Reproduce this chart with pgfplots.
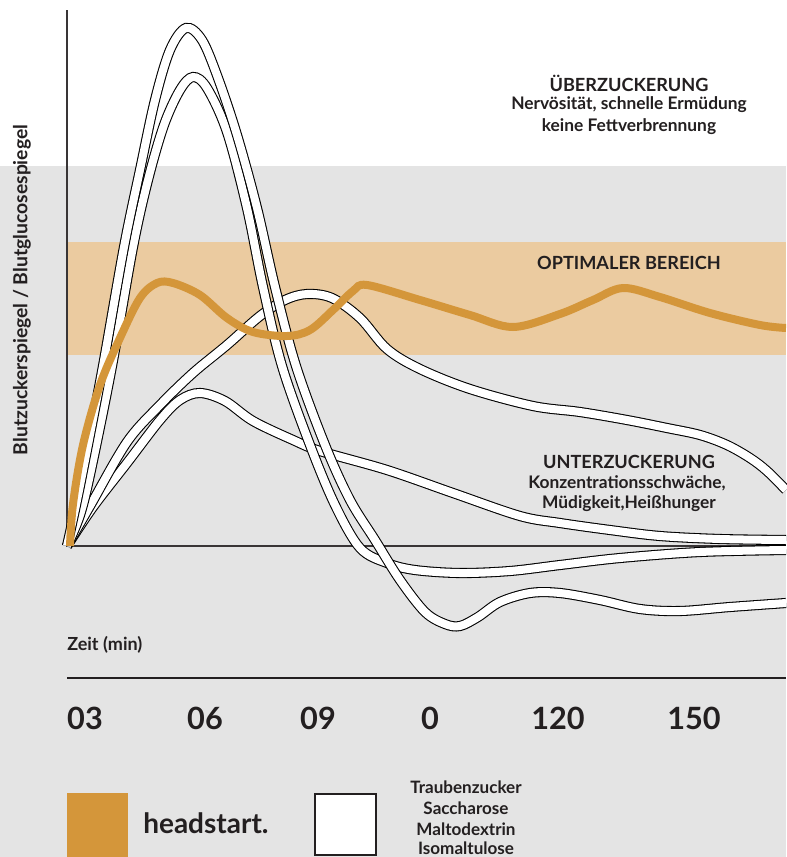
\documentclass[border=0pt]{standalone}
\usepackage{pgfplots}
\pgfplotsset{compat=1.18}
\usepackage{fontspec}
\setmainfont{Lato}
\definecolor{bggray}{HTML}{E4E4E4}
\definecolor{band}{HTML}{EBCBA0}
\definecolor{orng}{HTML}{D4963A}
\definecolor{ink}{HTML}{231F20}
\tikzset{
  sugar/.style={smooth, tension=0.55, draw=black, line width=0.8pt, double=white, double distance=6pt},
  ticklab/.style={ink, font=\bfseries\fontsize{23}{26}\selectfont},
  head/.style={ink, font=\bfseries\fontsize{13.6}{16}\selectfont},
  sub/.style={ink, font=\bfseries\fontsize{13}{15}\selectfont},
  leg/.style={ink, font=\bfseries\fontsize{12.8}{15}\selectfont},
}
\begin{document}
\begin{tikzpicture}
\begin{axis}[
  name=ax, at={(0,0)},
  width=589.5pt, height=642.75pt, scale only axis,
  xmin=0, xmax=786, ymin=0, ymax=857, y dir=reverse,
  hide axis, clip=false,
]
% backgrounds
\fill[white] (axis cs:0,0) rectangle (axis cs:786,166);
\fill[bggray] (axis cs:0,166) rectangle (axis cs:786,860);
\fill[band] (axis cs:67,242) rectangle (axis cs:786,355);
\draw[ink!90, line width=1.1pt] (axis cs:67,10) -- (axis cs:67,546) -- (axis cs:786,546);
\draw[ink, line width=1.6pt] (axis cs:67,678) -- (axis cs:786,678);

% low hump
\addplot[sugar] coordinates {
(67,546) (93,507) (127,463) (160,420) (180,400) (200,393) (225,401) (253,421)
(293,440) (320,451) (387,470) (453,493) (520,516) (560,523) (610,530)
(660,536) (720,539) (786,540)};
% mid hump
\addplot[sugar] coordinates {
(67,546) (90,506) (127,442) (160,405) (193,373) (227,345) (260,316) (285,300)
(307,294) (332,298) (360,318) (387,349) (420,369) (470,389) (533,406) (580,412)
(627,420) (667,428) (700,435) (727,445) (750,458) (767,471) (786,490)};
% second arch -> flattening
\addplot[sugar] coordinates {
(67,546) (80,515) (91,470) (112,366) (133,247) (148,180) (164,125) (180,90)
(193,77) (207,88) (227,132) (247,208) (263,287) (282,366) (310,445) (335,505)
(360,548) (387,563) (415,570) (460,573) (510,571) (560,565) (620,558) (700,552) (786,550)};
% tall arch -> deep minimum
\addplot[sugar] coordinates {
(67,546) (76,505) (86,455) (103,366) (124,247) (140,170) (155,100) (170,50)
(186,28) (202,40) (218,78) (237,135) (257,208) (275,287) (296,366) (325,445)
(350,500) (375,540) (400,580) (425,612) (445,624) (460,626) (478,617) (500,602)
(530,593) (560,593) (600,600) (640,609) (680,611) (730,607) (786,603)};
% headstart
\addplot[smooth, tension=0.55, orng, line width=6pt] coordinates {
(70,546) (73,504) (83,445) (100,385) (120,338) (140,298) (157,283) (173,283)
(200,295) (227,318) (253,332) (287,336) (310,330) (333,310) (353,291) (367,285)
(420,300) (470,315) (513,327) (560,314) (593,300) (623,288) (660,297) (710,313)
(760,325) (786,328)};

% texts
\node[head] at (axis cs:629,83) {ÜBERZUCKERUNG};
\node[sub] at (axis cs:629,105) {Nervösität, schnelle Ermüdung};
\node[sub] at (axis cs:629,127) {keine Fettverbrennung};
\node[head] at (axis cs:629,263) {OPTIMALER BEREICH};
\node[head] at (axis cs:629,462) {UNTERZUCKERUNG};
\node[sub] at (axis cs:627,483) {Konzentrationsschwäche,};
\node[sub] at (axis cs:629,504) {Müdigkeit,Heißhunger};
\node[ink, font=\bfseries\fontsize{14.5}{16}\selectfont, rotate=90] at (axis cs:22,290) {Blutzuckerspiegel / Blutglucosespiegel};
\node[ink, font=\bfseries\fontsize{13.5}{15}\selectfont, anchor=west, inner sep=0pt] at (axis cs:67,645) {Zeit (min)};

\node[ticklab] at (axis cs:85,718) {03};
\node[ticklab] at (axis cs:205,718) {06};
\node[ticklab] at (axis cs:318,718) {09};
\node[ticklab] at (axis cs:430,718) {0};
\node[ticklab] at (axis cs:558,718) {120};
\node[ticklab] at (axis cs:694,718) {150};

% legend
\fill[orng] (axis cs:67,793) rectangle (axis cs:128,860);
\filldraw[fill=white, draw=ink, line width=0.9pt] (axis cs:315,794) rectangle (axis cs:376,855);
\node[ink, font=\bfseries\fontsize{21}{24}\selectfont, anchor=west, inner sep=0pt] at (axis cs:143,823) {headstart.};
\node[leg] at (axis cs:466,787) {Traubenzucker};
\node[leg] at (axis cs:466,808) {Saccharose};
\node[leg] at (axis cs:466,829) {Maltodextrin};
\node[leg] at (axis cs:466,848) {Isomaltulose};

\coordinate (BL) at (axis cs:0,857);
\coordinate (TR) at (axis cs:786,0);
\end{axis}
\pgfresetboundingbox
\path[use as bounding box] (BL) rectangle (TR);
\end{tikzpicture}
\end{document}
